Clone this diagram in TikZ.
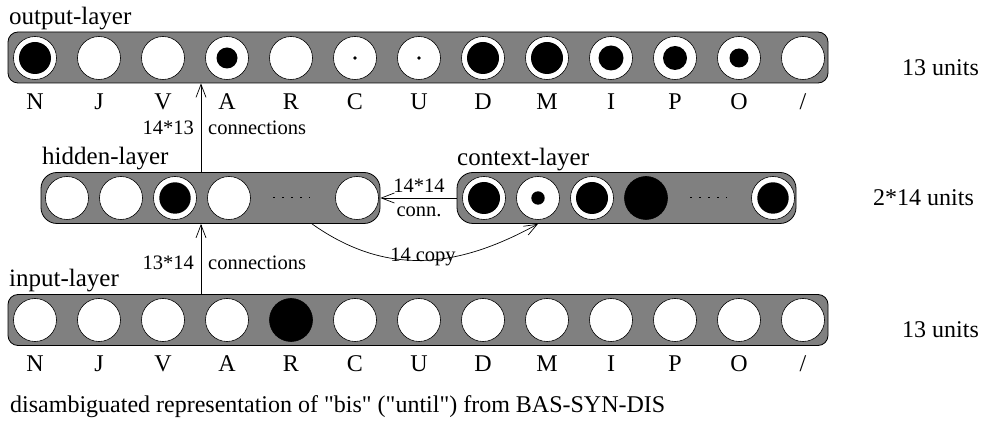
\documentclass[tikz,border=0pt]{standalone}
\usepackage{fontspec}
\setmainfont{Liberation Serif}[Ligatures=TeXOff]
\usetikzlibrary{arrows.meta}

\tikzset{
  layer/.style={draw=black, line width=0.8pt, fill=black!50, rounded corners=#1, inner sep=0pt, minimum height=51pt},
  neuron/.style={shape=circle, draw=black, line width=0.6pt, fill=white, minimum size=43pt, inner sep=0pt},
  act/.style={path picture={\fill[black] (path picture bounding box.center) circle (#1);}},
  layername/.style={font={\fontsize{25}{29}\selectfont}, inner sep=0pt, anchor=base west},
  tag/.style={font={\fontsize{24}{28}\selectfont}, inner sep=0pt, anchor=base},
  units/.style={font={\fontsize{24}{28}\selectfont}, inner sep=0pt, anchor=base west},
  weight/.style={font={\fontsize{20.5}{24}\selectfont}, inner sep=0pt},
  link/.style={line width=0.7pt, -{Straight Barb[length=13pt,width=10pt,line width=0.7pt]}},
  ellipsis/.style={line width=1pt, dash pattern=on 1.5pt off 7.5pt}
}

\begin{document}
\begin{tikzpicture}[x=1pt, y=-1pt]
\useasboundingbox (0,0) rectangle (986,430);

% the four layers
\node [layer=10pt, minimum width=820pt] (outbar) at (418,57.5) {};
\node [layer=16pt, minimum width=339pt] (hidbar) at (210.5,198) {};
\node [layer=16pt, minimum width=339pt] (ctxbar) at (626.5,198) {};
\node [layer=10pt, minimum width=820pt] (inbar) at (418,320) {};

\node [layername] (outname) at (9,25) {output-layer};
\node [layername] (hidname) at (42,165) {hidden-layer};
\node [layername] (ctxname) at (457,166) {context-layer};
\node [layername] (inname) at (9,287) {input-layer};

% output units
\node [neuron, act=16pt] (o1) at (35,58) {};
\node [neuron] (o2) at (99,58) {};
\node [neuron] (o3) at (163,58) {};
\node [neuron, act=10.5pt] (o4) at (227,58) {};
\node [neuron] (o5) at (291,58) {};
\node [neuron, act=1.8pt] (o6) at (355,58) {};
\node [neuron, act=1.8pt] (o7) at (419,58) {};
\node [neuron, act=16pt] (o8) at (483,58) {};
\node [neuron, act=16pt] (o9) at (547,58) {};
\node [neuron, act=12.5pt] (o10) at (611,58) {};
\node [neuron, act=12pt] (o11) at (675,58) {};
\node [neuron, act=9.5pt] (o12) at (739,58) {};
\node [neuron] (o13) at (803,58) {};

% hidden units
\node [neuron] (h1) at (67,198) {};
\node [neuron] (h2) at (121,198) {};
\node [neuron, act=15.7pt] (h3) at (175,198) {};
\node [neuron] (h4) at (229,198) {};
\node [neuron] (h5) at (357,198) {};
\draw [ellipsis, shorten <=22.5pt, shorten >=25.5pt] (h4.east) -- (h5.west);

% context units
\node [neuron, act=16pt] (c1) at (484,198) {};
\node [neuron, act=6.7pt] (c2) at (538,198) {};
\node [neuron, act=16pt] (c3) at (592,198) {};
\node [neuron, fill=black] (c4) at (646,198) {};
\node [neuron, act=15.7pt] (c5) at (773,198) {};
\draw [ellipsis, shorten <=22.5pt, shorten >=24.5pt] (c4.east) -- (c5.west);

% input units
\node [neuron] (i1) at (35,320) {};
\node [neuron] (i2) at (99,320) {};
\node [neuron] (i3) at (163,320) {};
\node [neuron] (i4) at (227,320) {};
\node [neuron, fill=black] (i5) at (291,320) {};
\node [neuron] (i6) at (355,320) {};
\node [neuron] (i7) at (419,320) {};
\node [neuron] (i8) at (483,320) {};
\node [neuron] (i9) at (547,320) {};
\node [neuron] (i10) at (611,320) {};
\node [neuron] (i11) at (675,320) {};
\node [neuron] (i12) at (739,320) {};
\node [neuron] (i13) at (803,320) {};

% word class tags
\coordinate (outtags) at (0,110);
\coordinate (intags) at (0,372);
\node [tag] (ot1) at (o1 |- outtags) {N};
\node [tag] (ot2) at (o2 |- outtags) {J};
\node [tag] (ot3) at (o3 |- outtags) {V};
\node [tag] (ot4) at (o4 |- outtags) {A};
\node [tag] (ot5) at (o5 |- outtags) {R};
\node [tag] (ot6) at (o6 |- outtags) {C};
\node [tag] (ot7) at (o7 |- outtags) {U};
\node [tag] (ot8) at (o8 |- outtags) {D};
\node [tag] (ot9) at (o9 |- outtags) {M};
\node [tag] (ot10) at (o10 |- outtags) {I};
\node [tag] (ot11) at (o11 |- outtags) {P};
\node [tag] (ot12) at (o12 |- outtags) {O};
\node [tag] (ot13) at (o13 |- outtags) {/};
\node [tag] (it1) at (i1 |- intags) {N};
\node [tag] (it2) at (i2 |- intags) {J};
\node [tag] (it3) at (i3 |- intags) {V};
\node [tag] (it4) at (i4 |- intags) {A};
\node [tag] (it5) at (i5 |- intags) {R};
\node [tag] (it6) at (i6 |- intags) {C};
\node [tag] (it7) at (i7 |- intags) {U};
\node [tag] (it8) at (i8 |- intags) {D};
\node [tag] (it9) at (i9 |- intags) {M};
\node [tag] (it10) at (i10 |- intags) {I};
\node [tag] (it11) at (i11 |- intags) {P};
\node [tag] (it12) at (i12 |- intags) {O};
\node [tag] (it13) at (i13 |- intags) {/};

\node [units] (outsize) at (902,76) {13 units};
\node [units] (hidsize) at (873,206) {2*14 units};
\node [units] (insize) at (902,338) {13 units};

% connections
\coordinate (feed) at (201,0);
\coordinate (copyfrom) at (312,0);
\draw [link] (inbar.north -| feed) -- (hidbar.south -| feed);
\draw [link] (hidbar.north -| feed) -- (outbar.south -| feed);
\draw [link] (ctxbar.west) -- (hidbar.east);
\draw [link] (hidbar.south -| copyfrom) .. controls (387,277) and (458,268) .. (ctxbar.south -| c2);

\node [weight, anchor=base east] (w1) at (194,135) {14*13};
\node [weight, anchor=base west] (w1c) at (208,135) {connections};
\node [weight, anchor=base east] (w2) at (194,270) {13*14};
\node [weight, anchor=base west] (w2c) at (208,270) {connections};
\node [weight, anchor=base] (w3) at (419,193) {14*14};
\node [weight, anchor=base] (w3c) at (419,217) {conn.};
\node [weight, anchor=base] (w4) at (423,262) {14 copy};

\node [units] (caption) at (10,413) {disambiguated representation of "bis" ("until") from BAS-SYN-DIS};
\end{tikzpicture}
\end{document}
